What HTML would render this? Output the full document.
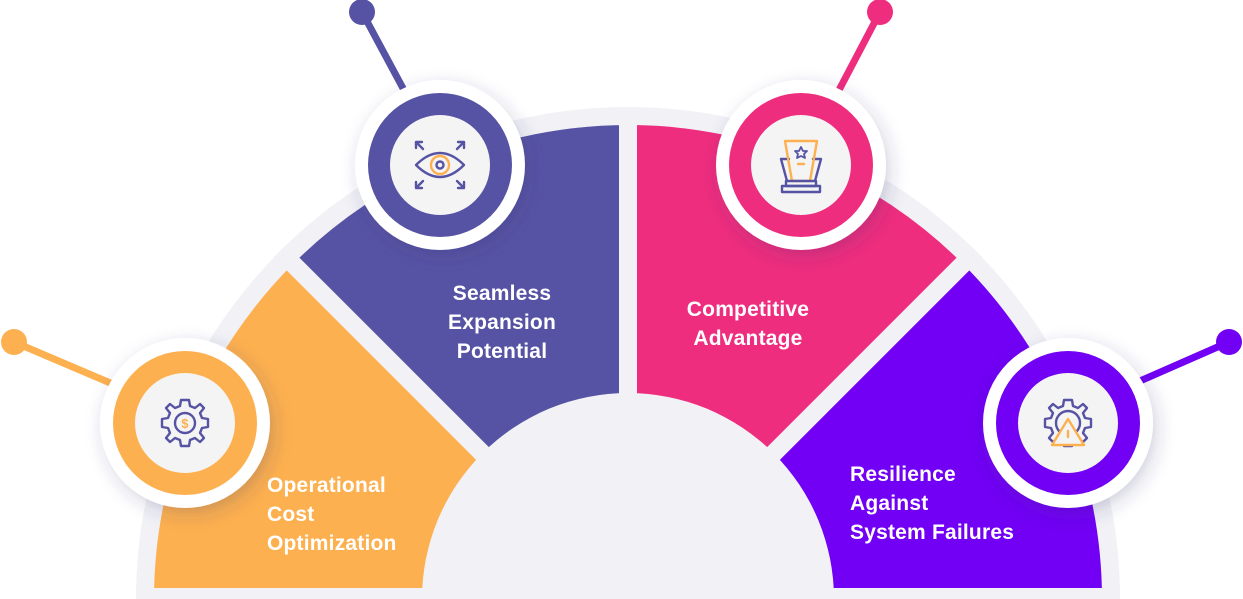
<!DOCTYPE html>
<html><head><meta charset="utf-8"><style>
html,body{margin:0;padding:0;background:#fff;width:1243px;height:599px;overflow:hidden;position:relative;}
svg{display:block;position:absolute;left:0;top:0;overflow:hidden}
text{font-family:"Liberation Sans",sans-serif;font-weight:bold;font-size:21px;fill:#fff;letter-spacing:0.2px}
</style></head><body>
<svg width="1243" height="599" viewBox="0 0 1243 599" xmlns="http://www.w3.org/2000/svg">
<defs>
<filter id="sh" x="-40%" y="-40%" width="180%" height="180%"><feDropShadow dx="4" dy="6" stdDeviation="9" flood-color="#3a3a70" flood-opacity="0.22"/></filter>
<path id="gear" d="M-4 -23 L4 -23 L5 -17 L10 -15 L15 -19 L19 -15 L15 -10 L17 -5 L23 -4 L23 4 L17 5 L15 10 L19 15 L15 19 L10 15 L5 17 L4 23 L-4 23 L-5 17 L-10 15 L-15 19 L-19 15 L-15 10 L-17 5 L-23 4 L-23 -4 L-17 -5 L-15 -10 L-19 -15 L-15 -19 L-10 -15 L-5 -17 Z"/>
</defs>
<path d="M136 599 A492 492 0 0 1 1120 599 Z" fill="#F1F1F6"/>
<path d="M628 599 L154 599 A474 474 0 0 1 293 264 Z" fill="#FDB04F"/>
<path d="M628 599 L293 264 A474 474 0 0 1 628 125 Z" fill="#5753A4"/>
<path d="M628 599 L628 125 A474 474 0 0 1 963 264 Z" fill="#EE2D7E"/>
<path d="M628 599 L963 264 A474 474 0 0 1 1102 599 Z" fill="#7100F4"/>
<g stroke="#F1F1F6" stroke-width="18">
<line x1="628" y1="599" x2="280" y2="251"/>
<line x1="628" y1="599" x2="628" y2="110"/>
<line x1="628" y1="599" x2="976" y2="251"/>
</g>
<rect x="136" y="588" width="984" height="11" fill="#F1F1F6"/>
<circle cx="628" cy="599" r="206" fill="#F1F1F6"/>
<g stroke-width="7" stroke-linecap="round">
<line x1="14" y1="342" x2="115" y2="385" stroke="#FDB04F"/>
<line x1="362" y1="12" x2="405" y2="92" stroke="#5753A4"/>
<line x1="880" y1="12" x2="838" y2="92" stroke="#EE2D7E"/>
<line x1="1229" y1="342" x2="1140" y2="381" stroke="#7100F4"/>
</g>
<circle cx="14" cy="342" r="13" fill="#FDB04F"/>
<circle cx="362" cy="12" r="13" fill="#5753A4"/>
<circle cx="880" cy="12" r="13" fill="#EE2D7E"/>
<circle cx="1229" cy="342" r="13" fill="#7100F4"/>
<g filter="url(#sh)">
<circle cx="185" cy="423" r="85" fill="#fff"/>
<circle cx="440" cy="165" r="85" fill="#fff"/>
<circle cx="801" cy="165" r="85" fill="#fff"/>
<circle cx="1068" cy="423" r="85" fill="#fff"/>
</g>
<circle cx="185" cy="423" r="72" fill="#FDB04F"/><circle cx="185" cy="423" r="50" fill="#F4F4F4"/>
<circle cx="440" cy="165" r="72" fill="#5753A4"/><circle cx="440" cy="165" r="50" fill="#F4F4F4"/>
<circle cx="801" cy="165" r="72" fill="#EE2D7E"/><circle cx="801" cy="165" r="50" fill="#F4F4F4"/>
<circle cx="1068" cy="423" r="72" fill="#7100F4"/><circle cx="1068" cy="423" r="50" fill="#F4F4F4"/>
<g fill="none" stroke-width="2.4" stroke-linejoin="round" stroke-linecap="round">
<g transform="translate(185,423)">
<use href="#gear" stroke="#5753A4"/>
<circle r="10" stroke="#5753A4"/>
<text x="0" y="5" text-anchor="middle" style="font-size:13px;fill:#FDB04F">$</text>
</g>
<g transform="translate(440,165)">
<path d="M-24 0 Q0 -24 24 0 Q0 24 -24 0Z" stroke="#5753A4"/>
<circle r="9" stroke="#FDB04F"/>
<circle r="3.5" stroke="#5753A4"/>
<path d="M-24 -23 L-17 -16 M-24 -23 v6 M-24 -23 h6 M24 -23 L17 -16 M24 -23 v6 M24 -23 h-6 M-24 23 L-17 16 M-24 23 v-6 M-24 23 h6 M24 23 L17 16 M24 23 v-6 M24 23 h-6" stroke="#5753A4"/>
</g>
<g transform="translate(801,165)">
<path d="M-12 -6 L-20 -6 L-14 16 M12 -6 L20 -6 L14 16" stroke="#5753A4"/>
<path d="M-16 -24 L16 -24 L9 16 L-9 16 Z" stroke="#FDB04F"/>
<path d="M0 -18 L2 -14 L6 -14 L3 -11 L4 -7 L0 -9 L-4 -7 L-3 -11 L-6 -14 L-2 -14 Z" stroke="#5753A4" stroke-width="1.8"/>
<line x1="-3" y1="-1" x2="3" y2="-1" stroke="#FDB04F"/>
<rect x="-15" y="16" width="30" height="5" stroke="#5753A4"/>
<rect x="-19" y="21" width="38" height="6" stroke="#5753A4"/>
</g>
<g transform="translate(1068,423)">
<use href="#gear" stroke="#5753A4"/>
<circle r="12" stroke="#5753A4"/>
<path d="M0 -4 L16 22 L-16 22 Z" fill="#F4F4F4" stroke="#FDB04F"/>
<line x1="0" y1="8" x2="0" y2="14" stroke="#FDB04F"/>
</g>
</g>
<text x="267" y="492">Operational</text>
<text x="267" y="521">Cost</text>
<text x="267" y="550">Optimization</text>
<text x="502" y="300" text-anchor="middle">Seamless</text>
<text x="502" y="329" text-anchor="middle">Expansion</text>
<text x="502" y="358" text-anchor="middle">Potential</text>
<text x="748" y="316" text-anchor="middle">Competitive</text>
<text x="748" y="345" text-anchor="middle">Advantage</text>
<text x="850" y="481">Resilience</text>
<text x="850" y="510">Against</text>
<text x="850" y="539">System Failures</text>
</svg>
</body></html>
